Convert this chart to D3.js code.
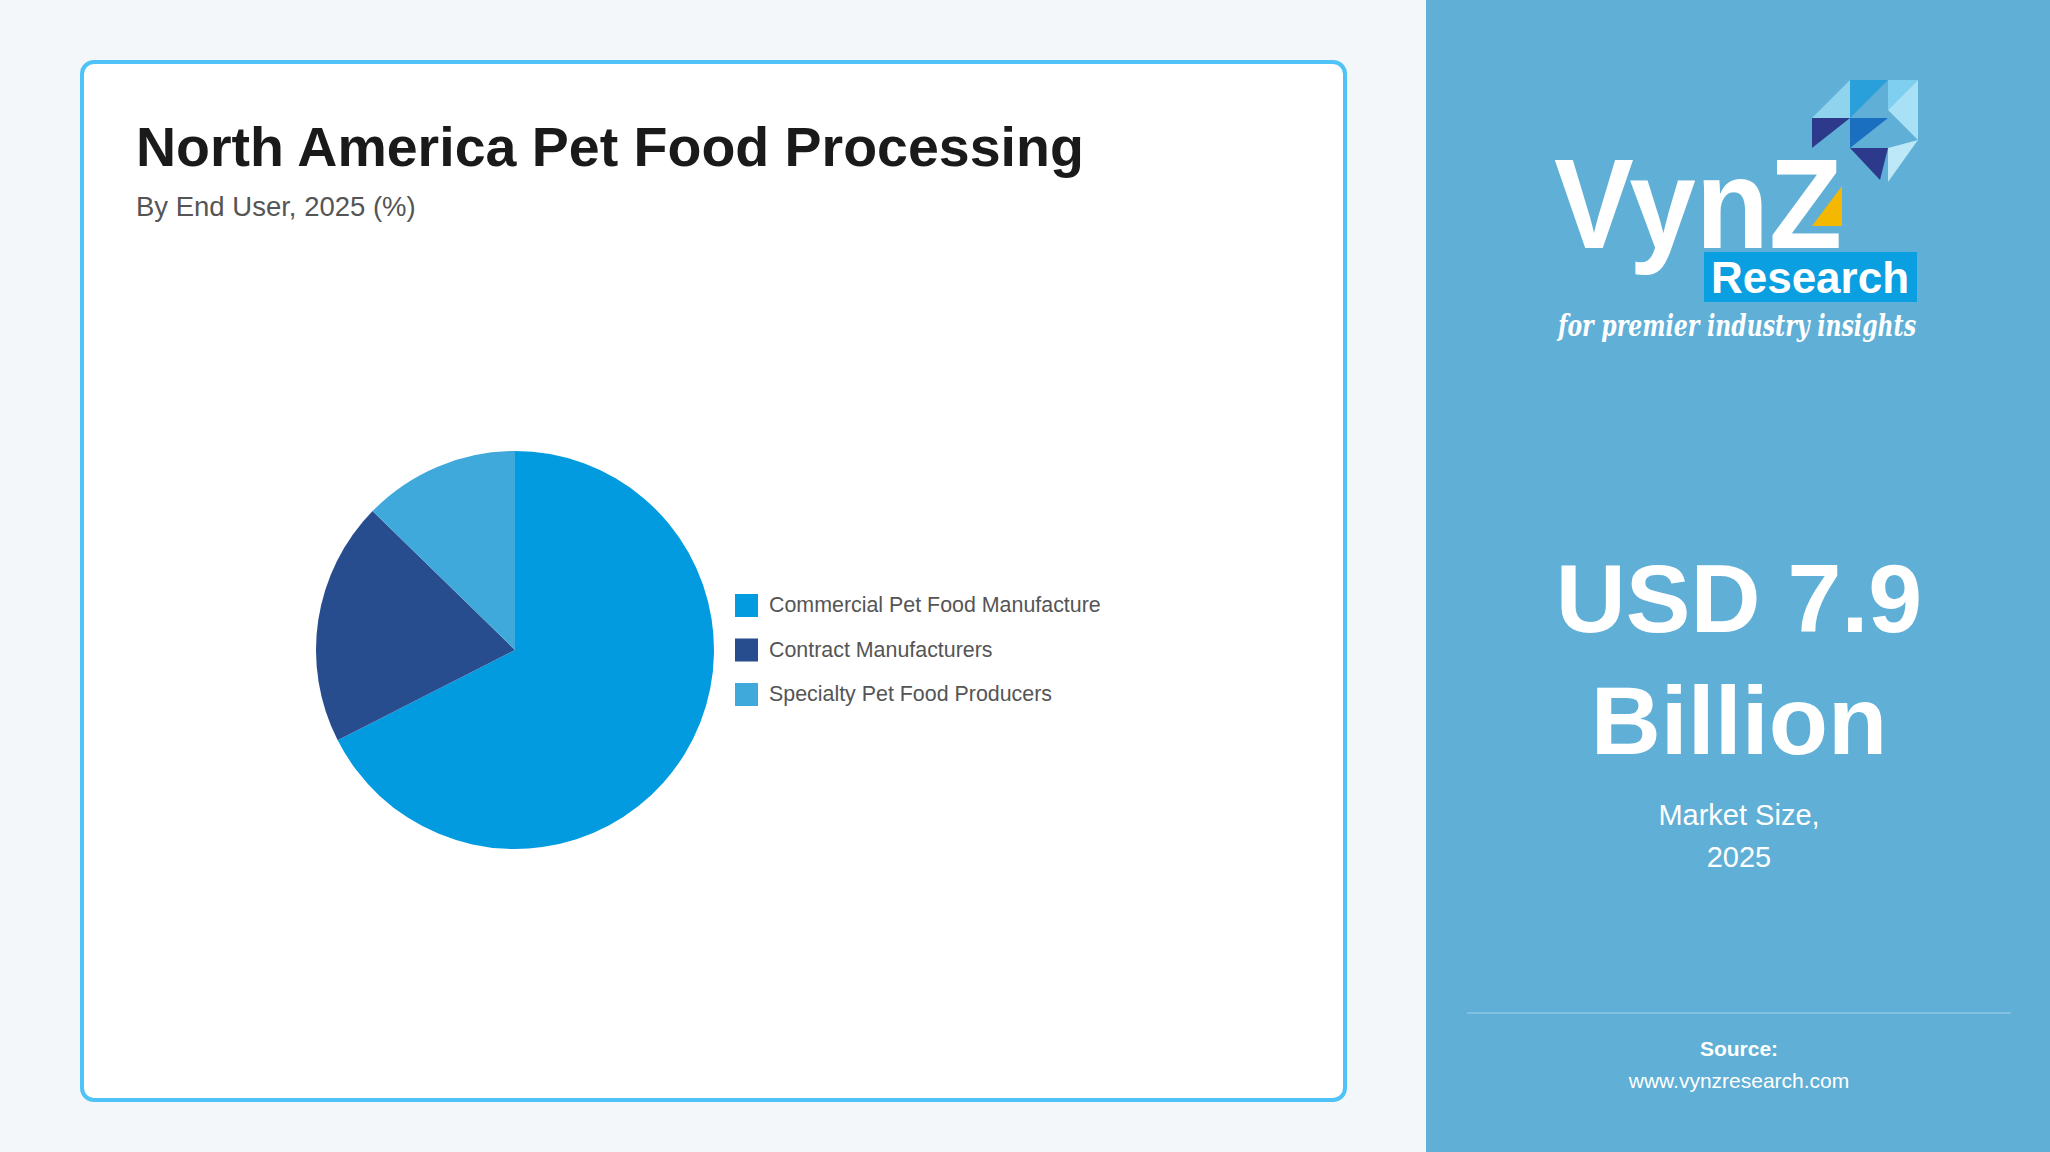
<!DOCTYPE html>
<html><head><meta charset="utf-8">
<script src="https://cdn.jsdelivr.net/npm/d3@7"></script>
<style>body{margin:0;background:#f4f7fa;font-family:Arial,"Liberation Sans",sans-serif}</style>
</head><body><svg id="c" width="2050" height="1152"></svg>
<script>
const categories=["Commercial Pet Food Manufacture","Contract Manufacturers","Specialty Pet Food Producers"];
const values=[67.5,19.8,12.7];
const colors=["#039be0","#284d8f","#40a9db"];

const svg=d3.select("#c");
svg.append("rect").attr("width",2050).attr("height",1152).attr("fill","#f4f7fa");
svg.append("rect").attr("x",82).attr("y",62).attr("width",1263).attr("height",1038).attr("rx",12)
 .attr("fill","#fff").attr("stroke","#4fc3f7").attr("stroke-width",4);
svg.append("text").attr("x",136).attr("y",166).attr("font-size",55.5).attr("font-weight","bold").attr("fill","#1a1a1a").text("North America Pet Food Processing");
svg.append("text").attr("x",136).attr("y",216).attr("font-size",27.5).attr("fill","#555").text("By End User, 2025 (%)");

const pie=d3.pie().sort(null)(values);
const arc=d3.arc().innerRadius(0).outerRadius(199);
svg.append("g").attr("transform","translate(515,650)").selectAll("path").data(pie).join("path")
 .attr("d",arc).attr("fill",(d,i)=>colors[i]);
const lg=svg.append("g").selectAll("g").data(categories).join("g").attr("transform",(d,i)=>`translate(735,${594+i*44.5})`);
lg.append("rect").attr("width",23).attr("height",23).attr("fill",(d,i)=>colors[i]);
lg.append("text").attr("x",34).attr("y",18).attr("font-size",21.4).attr("fill","#555").text(d=>d);

// right panel
svg.append("rect").attr("x",1426).attr("width",624).attr("height",1152).attr("fill","#5fafd6");
const lo=svg.append("g");
const tri=[[[1812,118],[1850,80],[1850,118]],[[1850,80],[1888,80],[1850,118]],[[1888,80],[1918,80],[1888,110]],[[1812,118],[1850,118],[1812,148]],[[1850,118],[1888,118],[1850,148]],[[1888,110],[1918,80],[1918,140]],[[1850,148],[1888,148],[1880,180]],[[1888,148],[1918,140],[1888,182]]];
const tc=["#8fd3ec","#2aa0da","#7fd0f0","#2d3a8c","#1a6fc0","#a8e0f5","#2d3a8c","#bde8f8"];
lo.selectAll("path").data(tri).join("path").attr("d",d=>"M"+d.join("L")+"Z").attr("fill",(d,i)=>tc[i]);
lo.append("text").attr("x",1554).attr("y",248).attr("font-size",128).attr("font-weight","bold").attr("fill","#fff").attr("textLength",288).attr("lengthAdjust","spacingAndGlyphs").text("VynZ");
lo.append("path").attr("d","M1812,226L1842,186L1842,226Z").attr("fill","#f5b800");
lo.append("rect").attr("x",1704).attr("y",252).attr("width",213).attr("height",50).attr("fill","#0a9fe0");
lo.append("text").attr("x",1810).attr("y",293).attr("text-anchor","middle").attr("font-size",44).attr("font-weight","bold").attr("fill","#fff").text("Research");
lo.append("text").attr("x",1558).attr("y",336).attr("font-size",30).attr("font-style","italic").attr("font-weight","bold").attr("font-family","DejaVu Serif,serif").attr("fill","#fff").attr("textLength",358).attr("lengthAdjust","spacingAndGlyphs").text("for premier industry insights");

const t=(x,y,s,txt,w)=>svg.append("text").attr("x",x).attr("y",y).attr("text-anchor","middle").attr("font-size",s).attr("font-weight",w||"normal").attr("fill","#fff").text(txt);
t(1739,632,97,"USD 7.9","bold");
t(1739,754,97,"Billion","bold");
t(1739,825,29,"Market Size,");
t(1739,867,29,"2025");
svg.append("line").attr("x1",1467).attr("x2",2011).attr("y1",1013).attr("y2",1013).attr("stroke","#8cc6e3").attr("stroke-width",1.5);
t(1739,1056,21,"Source:","bold");
t(1739,1088,21,"www.vynzresearch.com");
</script></body></html>
